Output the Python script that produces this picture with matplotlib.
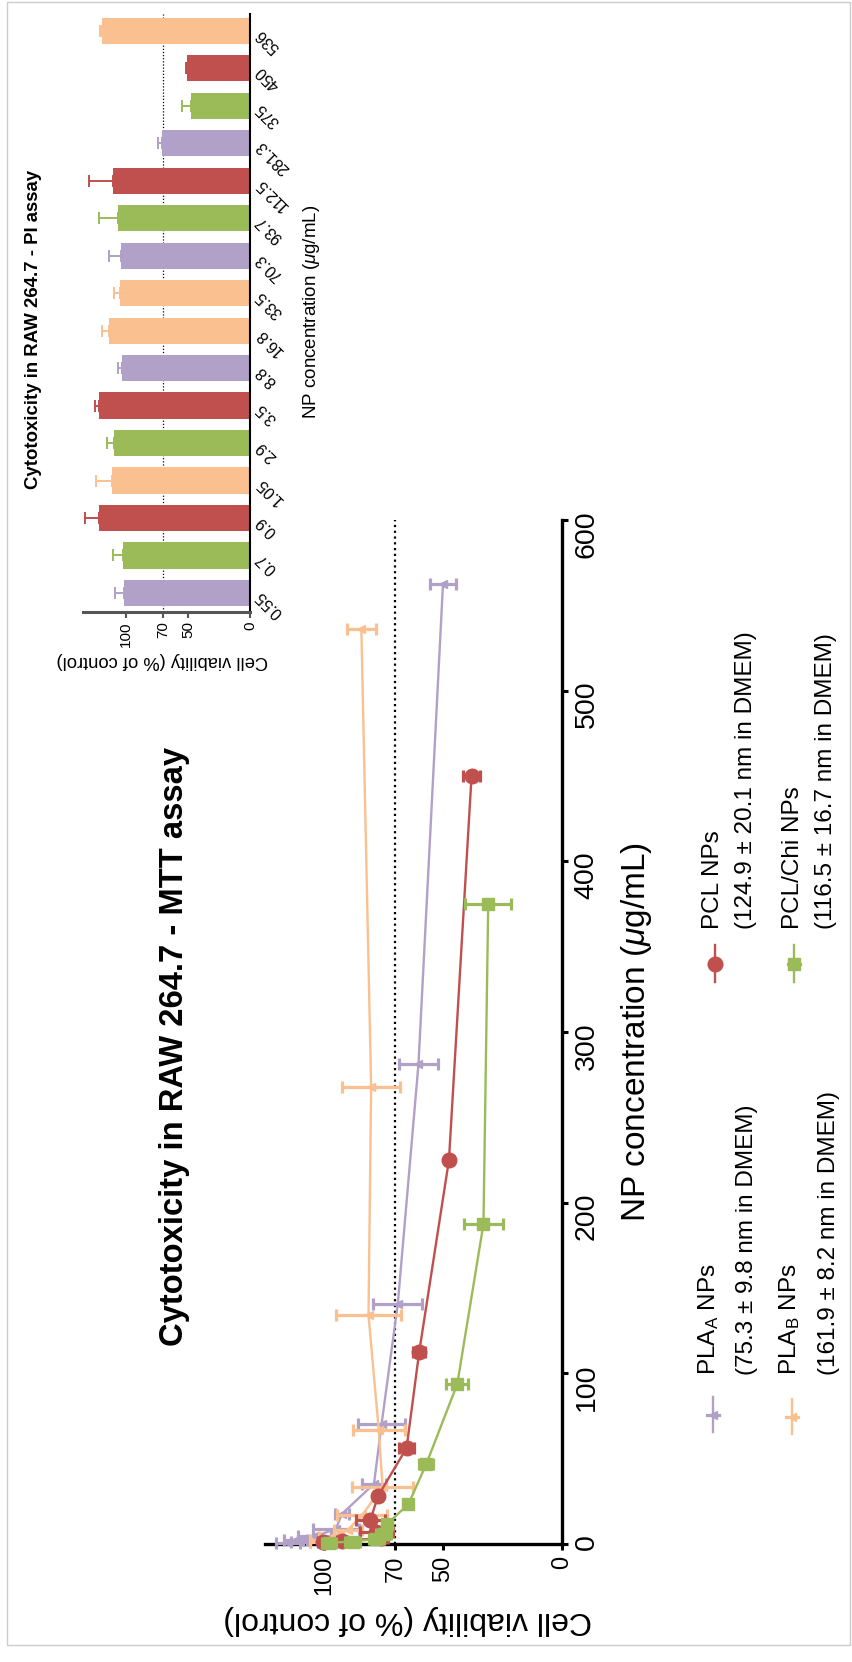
import matplotlib
matplotlib.use('Agg')
import matplotlib.pyplot as plt
from matplotlib.lines import Line2D
from matplotlib.patches import Rectangle

plt.rcParams['font.family'] = ['Liberation Sans', 'DejaVu Sans']
plt.rcParams['mathtext.fontset'] = 'custom'
plt.rcParams['mathtext.rm'] = 'Liberation Sans'
plt.rcParams['mathtext.it'] = 'Liberation Sans:italic'

# MTT assay: concentration (ug/mL), viability (% of control), SD
pla_a_conc = [562.5, 281.3, 140.6, 70.3, 35.2, 17.6, 8.8, 4.4, 2.2, 1.1, 0.55]
pla_a_via = [50, 60.3, 69, 75.8, 79, 92.5, 95, 104, 112, 110, 115]
pla_a_sd = [5.5, 8.3, 10.3, 9.8, 5, 3, 9.5, 7, 5, 4, 5]

pla_b_conc = [536, 268, 134, 67, 33.5, 16.8, 8.4, 4.2, 2.1, 1.05]
pla_b_via = [84.3, 80.2, 81.3, 77, 75.4, 84, 90, 97, 100, 102]
pla_b_sd = [6.2, 12.2, 13.8, 11, 12.8, 10.5, 6, 5, 6, 4]

pcl_conc = [450, 225, 112.5, 56.25, 28.1, 14.1, 7.03, 3.52, 1.76, 0.88]
pcl_via = [38, 47.5, 60, 65.3, 77.3, 80.5, 78, 76, 92.5, 100.5]
pcl_sd = [3.5, 1.5, 2.5, 3, 1.5, 6, 7, 3, 2, 2]

chi_conc = [375, 187.5, 93.75, 46.9, 23.4, 11.7, 5.86, 2.93, 1.46, 0.73]
chi_via = [31, 33, 44, 57, 64.5, 73.5, 75, 78, 88, 98]
chi_sd = [9.7, 8, 4.6, 3, 1.5, 2, 3, 3, 3, 3]

# PI assay bars
pi_labels = ['0.55', '0.7', '0.9', '1.05', '2.9', '3.5', '8.8', '16.8',
             '33.5', '70.3', '93.7', '112.5', '281.3', '375', '450', '536']
pi_via = [101.6, 102.7, 122, 111.6, 109.4, 121.5, 103.5, 113.7,
          104.8, 104.3, 106.2, 110.2, 70.7, 47.6, 50.5, 119.1]
pi_err = [7.3, 7.5, 11, 12.9, 6.2, 3.8, 2.7, 5.4,
          4.8, 9.1, 15.3, 19.4, 3.2, 7.5, 1, 1.9]
pi_group = ['A', 'C', 'P', 'B', 'C', 'P', 'A', 'B',
            'B', 'A', 'C', 'P', 'A', 'C', 'P', 'B']

PURPLE = '#B1A0C7'
ORANGE = '#FAC090'
RED = '#C0504D'
GREEN = '#9BBB59'
group_color = {'A': PURPLE, 'B': ORANGE, 'P': RED, 'C': GREEN}

W, H = 852, 1662


def fxy(px, py):
    # pixel position (top-left origin) -> figure fraction
    return px / W, 1 - py / H


fig = plt.figure(figsize=(W / 100, H / 100), dpi=100)

# ---------------- main MTT panel (drawn rotated) ----------------
ax = fig.add_axes([264.5 / W, 1 - 1544 / H, 297.5 / W, 1024 / H])
ax.set_xlim(125, 0)
ax.set_ylim(0, 600)

ax.axvline(70, color='black', ls=(0, (1, 1.6)), lw=1.6, zorder=1)

series = [
    (pla_a_conc, pla_a_via, pla_a_sd, PURPLE, '<', 6),
    (pla_b_conc, pla_b_via, pla_b_sd, ORANGE, '<', 6),
    (pcl_conc, pcl_via, pcl_sd, RED, 'o', 10.5),
    (chi_conc, chi_via, chi_sd, GREEN, 's', 8),
]
for z, (conc, via, sd, col, mk, ms) in enumerate(series):
    ax.errorbar(via, conc, xerr=sd, color=col, marker=mk, ms=ms, mec=col,
                lw=1.7, elinewidth=2.3, capsize=4.5, capthick=2.3,
                zorder=3 + z, clip_on=False)

for side in ['left', 'top']:
    ax.spines[side].set_visible(False)
for side in ['right', 'bottom']:
    ax.spines[side].set_linewidth(2.4)
ax.yaxis.tick_right()
ax.set_xticks([0, 50, 70, 100])
ax.set_yticks(range(0, 601, 100))
ax.tick_params(width=2.2, length=4.5, labelrotation=90, pad=4)
ax.tick_params(axis='x', labelsize=17)
ax.tick_params(axis='y', labelsize=20.5)

ax.set_xlabel('Cell viability (% of control)', fontsize=23, rotation=180,
              ha='center', va='center')
ax.xaxis.set_label_coords(0.48, -0.074)
ax.yaxis.set_label_position('right')
ax.set_ylabel(r'NP concentration ($\mu$g/mL)', fontsize=24, rotation=90,
              ha='center', va='center')
ax.yaxis.set_label_coords(1.249, 0.5)
ax.text(-0.301, 0.486, 'Cytotoxicity in RAW 264.7 - MTT assay',
        transform=ax.transAxes, rotation=90, fontsize=23.6, fontweight='bold',
        ha='center', va='center')

# ---------------- legend ----------------
def legend_handle(px, py0, py1, col, mk, ms):
    x, y0 = fxy(px, py0)
    _, y1 = fxy(px, py1)
    _, yc = fxy(px, (py0 + py1) / 2)
    fig.add_artist(Line2D([x, x], [y0, y1], color=col, lw=1.7,
                          transform=fig.transFigure))
    fig.add_artist(Line2D([x - 6 / W, x + 6 / W], [yc, yc], color=col, lw=2.3,
                          transform=fig.transFigure))
    fig.add_artist(Line2D([x], [yc], color=col, marker=mk, ms=ms, mec=col,
                          transform=fig.transFigure))


def legend_text(px, py, s):
    x, y = fxy(px, py)
    fig.text(x, y, s, rotation=90, fontsize=17.5, ha='center', va='bottom')


legend_handle(713, 1397, 1432, PURPLE, '<', 6)
legend_text(709, 1375, r'PLA$_\mathrm{A}$ NPs')
legend_text(747, 1375, '(75.3 ± 9.8 nm in DMEM)')
legend_handle(792, 1399, 1434, ORANGE, '<', 6)
legend_text(790, 1375, r'PLA$_\mathrm{B}$ NPs')
legend_text(829, 1375, '(161.9 ± 8.2 nm in DMEM)')
legend_handle(715, 945, 982, RED, 'o', 10.5)
legend_text(713, 929, 'PCL NPs')
legend_text(746, 929, '(124.9 ± 20.1 nm in DMEM)')
legend_handle(794, 945, 982, GREEN, 's', 8)
legend_text(793, 929, 'PCL/Chi NPs')
legend_text(826, 929, '(116.5 ± 16.7 nm in DMEM)')

# ---------------- PI assay bar panel ----------------
ax2 = fig.add_axes([82.6 / W, 1 - 611.7 / H, 167.4 / W, 597.7 / H])
ax2.set_xlim(135, 0)
ax2.set_ylim(-0.5, 15.45)
idx = list(range(len(pi_labels)))
bar_cols = [group_color[g] for g in pi_group]
ax2.axvline(70, color='black', ls=(0, (1, 1.5)), lw=0.9, zorder=0)
ax2.barh(idx, pi_via, height=0.7, color=bar_cols, zorder=2)
for i, v, e, c in zip(idx, pi_via, pi_err, bar_cols):
    ax2.errorbar(v, i, xerr=[[0], [e]], fmt='none', ecolor=c,
                 elinewidth=1.4, capsize=4.5, capthick=1.4, zorder=2)

for side in ['left', 'top']:
    ax2.spines[side].set_visible(False)
ax2.spines['right'].set_linewidth(1.5)
ax2.spines['bottom'].set_linewidth(2.2)
ax2.spines['bottom'].set_color('#555555')
ax2.yaxis.tick_right()
ax2.set_yticks(idx, pi_labels, rotation=135, ha='right', va='center',
               rotation_mode='anchor', fontsize=11.5)
ax2.tick_params(axis='y', length=0, pad=6)
ax2.set_xticks([0, 50, 70, 100])
ax2.tick_params(axis='x', labelrotation=90, labelsize=11, length=4,
                width=1.5, color='#555555', pad=3)

ax2.set_xlabel('Cell viability (% of control)', fontsize=13.2, rotation=180,
               ha='center', va='center')
ax2.xaxis.set_label_coords(0.477, -0.081)
ax2.yaxis.set_label_position('right')
ax2.set_ylabel(r'NP concentration ($\mu$g/mL)', fontsize=13.5, rotation=90,
               ha='center', va='center')
ax2.yaxis.set_label_coords(1.370, 0.501)
ax2.text(-0.296, 0.473, 'Cytotoxicity in RAW 264.7 - PI assay',
         transform=ax2.transAxes, rotation=90, fontsize=13.4, fontweight='bold',
         ha='center', va='center')

# thin frame round the figure
fig.add_artist(Rectangle((7 / W, 1 - 1645 / H), (850 - 7) / W, (1645 - 2) / H,
                         fill=False, ec='#cccccc', lw=1, transform=fig.transFigure))

fig.savefig('out.png', dpi=100)
